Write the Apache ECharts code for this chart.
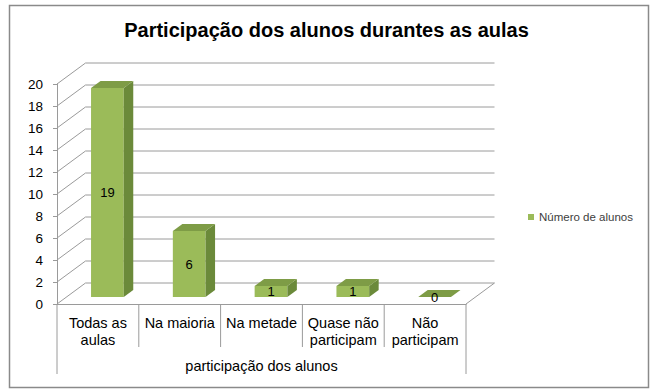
<!DOCTYPE html>
<html><head><meta charset="utf-8">
<script src="https://cdn.jsdelivr.net/npm/echarts@6/dist/echarts.min.js"></script>
<style>html,body{margin:0;padding:0;background:#fff}#c{width:653px;height:391px}</style>
</head><body><div id="c"></div>
<script>
const categories = ['Todas as\naulas', 'Na maioria', 'Na metade', 'Quase não\nparticipam', 'Não\nparticipam'];
const values = [19, 6, 1, 1, 0];
const yTicks = [0, 2, 4, 6, 8, 10, 12, 14, 16, 18, 20];
const seriesName = 'Número de alunos';
const titleText = 'Participação dos alunos durantes as aulas';
const axisName = 'participação dos alunos';

const FONT = '"Liberation Sans", Arial, sans-serif';
const DEPTH = [28.5, -21];
const GRID_COLOR = '#9a9a9a';
const FRONT = '#9bbb59', SIDE = '#6b8a3a', TOP = '#7e9c46';

function ln(x1, y1, x2, y2) {
  return { type: 'line', shape: { x1, y1, x2, y2 }, style: { stroke: GRID_COLOR, lineWidth: 1 } };
}

function frameRender(params, api) {
  const children = [];
  const bw = api.size([1, 0])[0];
  const n = categories.length;
  const x0 = api.coord([0, 0])[0] - bw / 2;
  const x1 = x0 + bw * n;
  const yBase = api.coord([0, 0])[1];
  yTicks.forEach(v => {
    const y = api.coord([0, v])[1];
    children.push(ln(x0, y, x0 + DEPTH[0], y + DEPTH[1]));
    children.push(ln(x0 + DEPTH[0], y + DEPTH[1], x1 + DEPTH[0], y + DEPTH[1]));
  });
  children.push(ln(x1, yBase, x1 + DEPTH[0], yBase + DEPTH[1]));
  for (let i = 0; i <= n; i++) {
    const x = x0 + i * bw;
    const len = (i === 0 || i === n) ? 70 : 43;
    children.push(ln(x, yBase, x, yBase + len));
  }
  return { type: 'group', children };
}

function barRender(params, api) {
  const idx = api.value(0), v = api.value(1);
  const bw = api.size([1, 0])[0];
  const c = api.coord([idx, 0]);
  const t = api.coord([idx, v]);
  const w = bw * 0.4;
  const f = [DEPTH[0] / 3, DEPTH[1] / 3];
  const xl = c[0] - w / 2 + f[0], xr = c[0] + w / 2 + f[0];
  const yb = c[1] + f[1], yt = t[1] + f[1];
  const d = f;
  const children = [];
  if (yb - yt > 0.5) {
    children.push({ type: 'rect', shape: { x: xl, y: yt, width: w, height: yb - yt }, style: { fill: FRONT } });
    children.push({ type: 'polygon', shape: { points: [[xr, yb], [xr, yt], [xr + d[0], yt + d[1]], [xr + d[0], yb + d[1]]] }, style: { fill: SIDE } });
  }
  children.push({ type: 'polygon', shape: { points: [[xl, yt], [xr, yt], [xr + d[0], yt + d[1]], [xl + d[0], yt + d[1]]] }, style: { fill: TOP } });
  children.push({ type: 'text', style: { x: (xl + xr) / 2, y: (yt + yb) / 2, text: String(v), fill: '#000', font: '13px ' + FONT, align: 'center', verticalAlign: 'middle' } });
  return { type: 'group', children };
}

const chart = echarts.init(document.getElementById('c'), null, { renderer: 'svg' });
chart.setOption({
  animation: false,
  backgroundColor: '#fff',
  title: {
    text: titleText, left: 'center', top: 15,
    textStyle: { fontFamily: FONT, fontSize: 20, fontWeight: 'bold', color: '#000' }
  },
  legend: {
    data: [seriesName], left: 523, top: 206, icon: 'rect', itemWidth: 6, itemHeight: 6, itemGap: 4,
    textStyle: { fontFamily: FONT, fontSize: 11.5, color: '#404040' }
  },
  grid: { left: 57, right: 187, top: 84, bottom: 87 },
  xAxis: {
    type: 'category', data: categories,
    axisLine: { show: true, lineStyle: { color: GRID_COLOR, width: 1 } },
    axisTick: { show: false },
    axisLabel: { fontFamily: FONT, fontSize: 14.5, color: '#000', lineHeight: 17, margin: 10, interval: 0 },
    name: axisName, nameLocation: 'middle', nameGap: 54,
    nameTextStyle: { fontFamily: FONT, fontSize: 14.5, color: '#000' },
    splitLine: { show: false }
  },
  yAxis: {
    type: 'value', min: 0, max: 20, interval: 2,
    axisLine: { show: true, lineStyle: { color: GRID_COLOR, width: 1 } },
    axisTick: { show: true, length: 4, lineStyle: { color: GRID_COLOR } },
    axisLabel: { fontFamily: FONT, fontSize: 13.5, color: '#000', margin: 14 },
    splitLine: { show: false }
  },
  graphic: [{
    type: 'rect', left: 7, top: 3, shape: { width: 639, height: 382 },
    style: { fill: 'none', stroke: '#8a8a8a', lineWidth: 1.5 }, z: -1
  }],
  series: [
    {
      type: 'custom', name: 'frame', renderItem: frameRender, data: [[0, 0]], silent: true, z: 1,
      encode: { x: 0, y: 1 }
    },
    {
      type: 'custom', name: seriesName, renderItem: barRender,
      data: values.map((v, i) => [i, v]), itemStyle: { color: FRONT }, z: 2,
      encode: { x: 0, y: 1 }
    }
  ]
});
</script></body></html>
